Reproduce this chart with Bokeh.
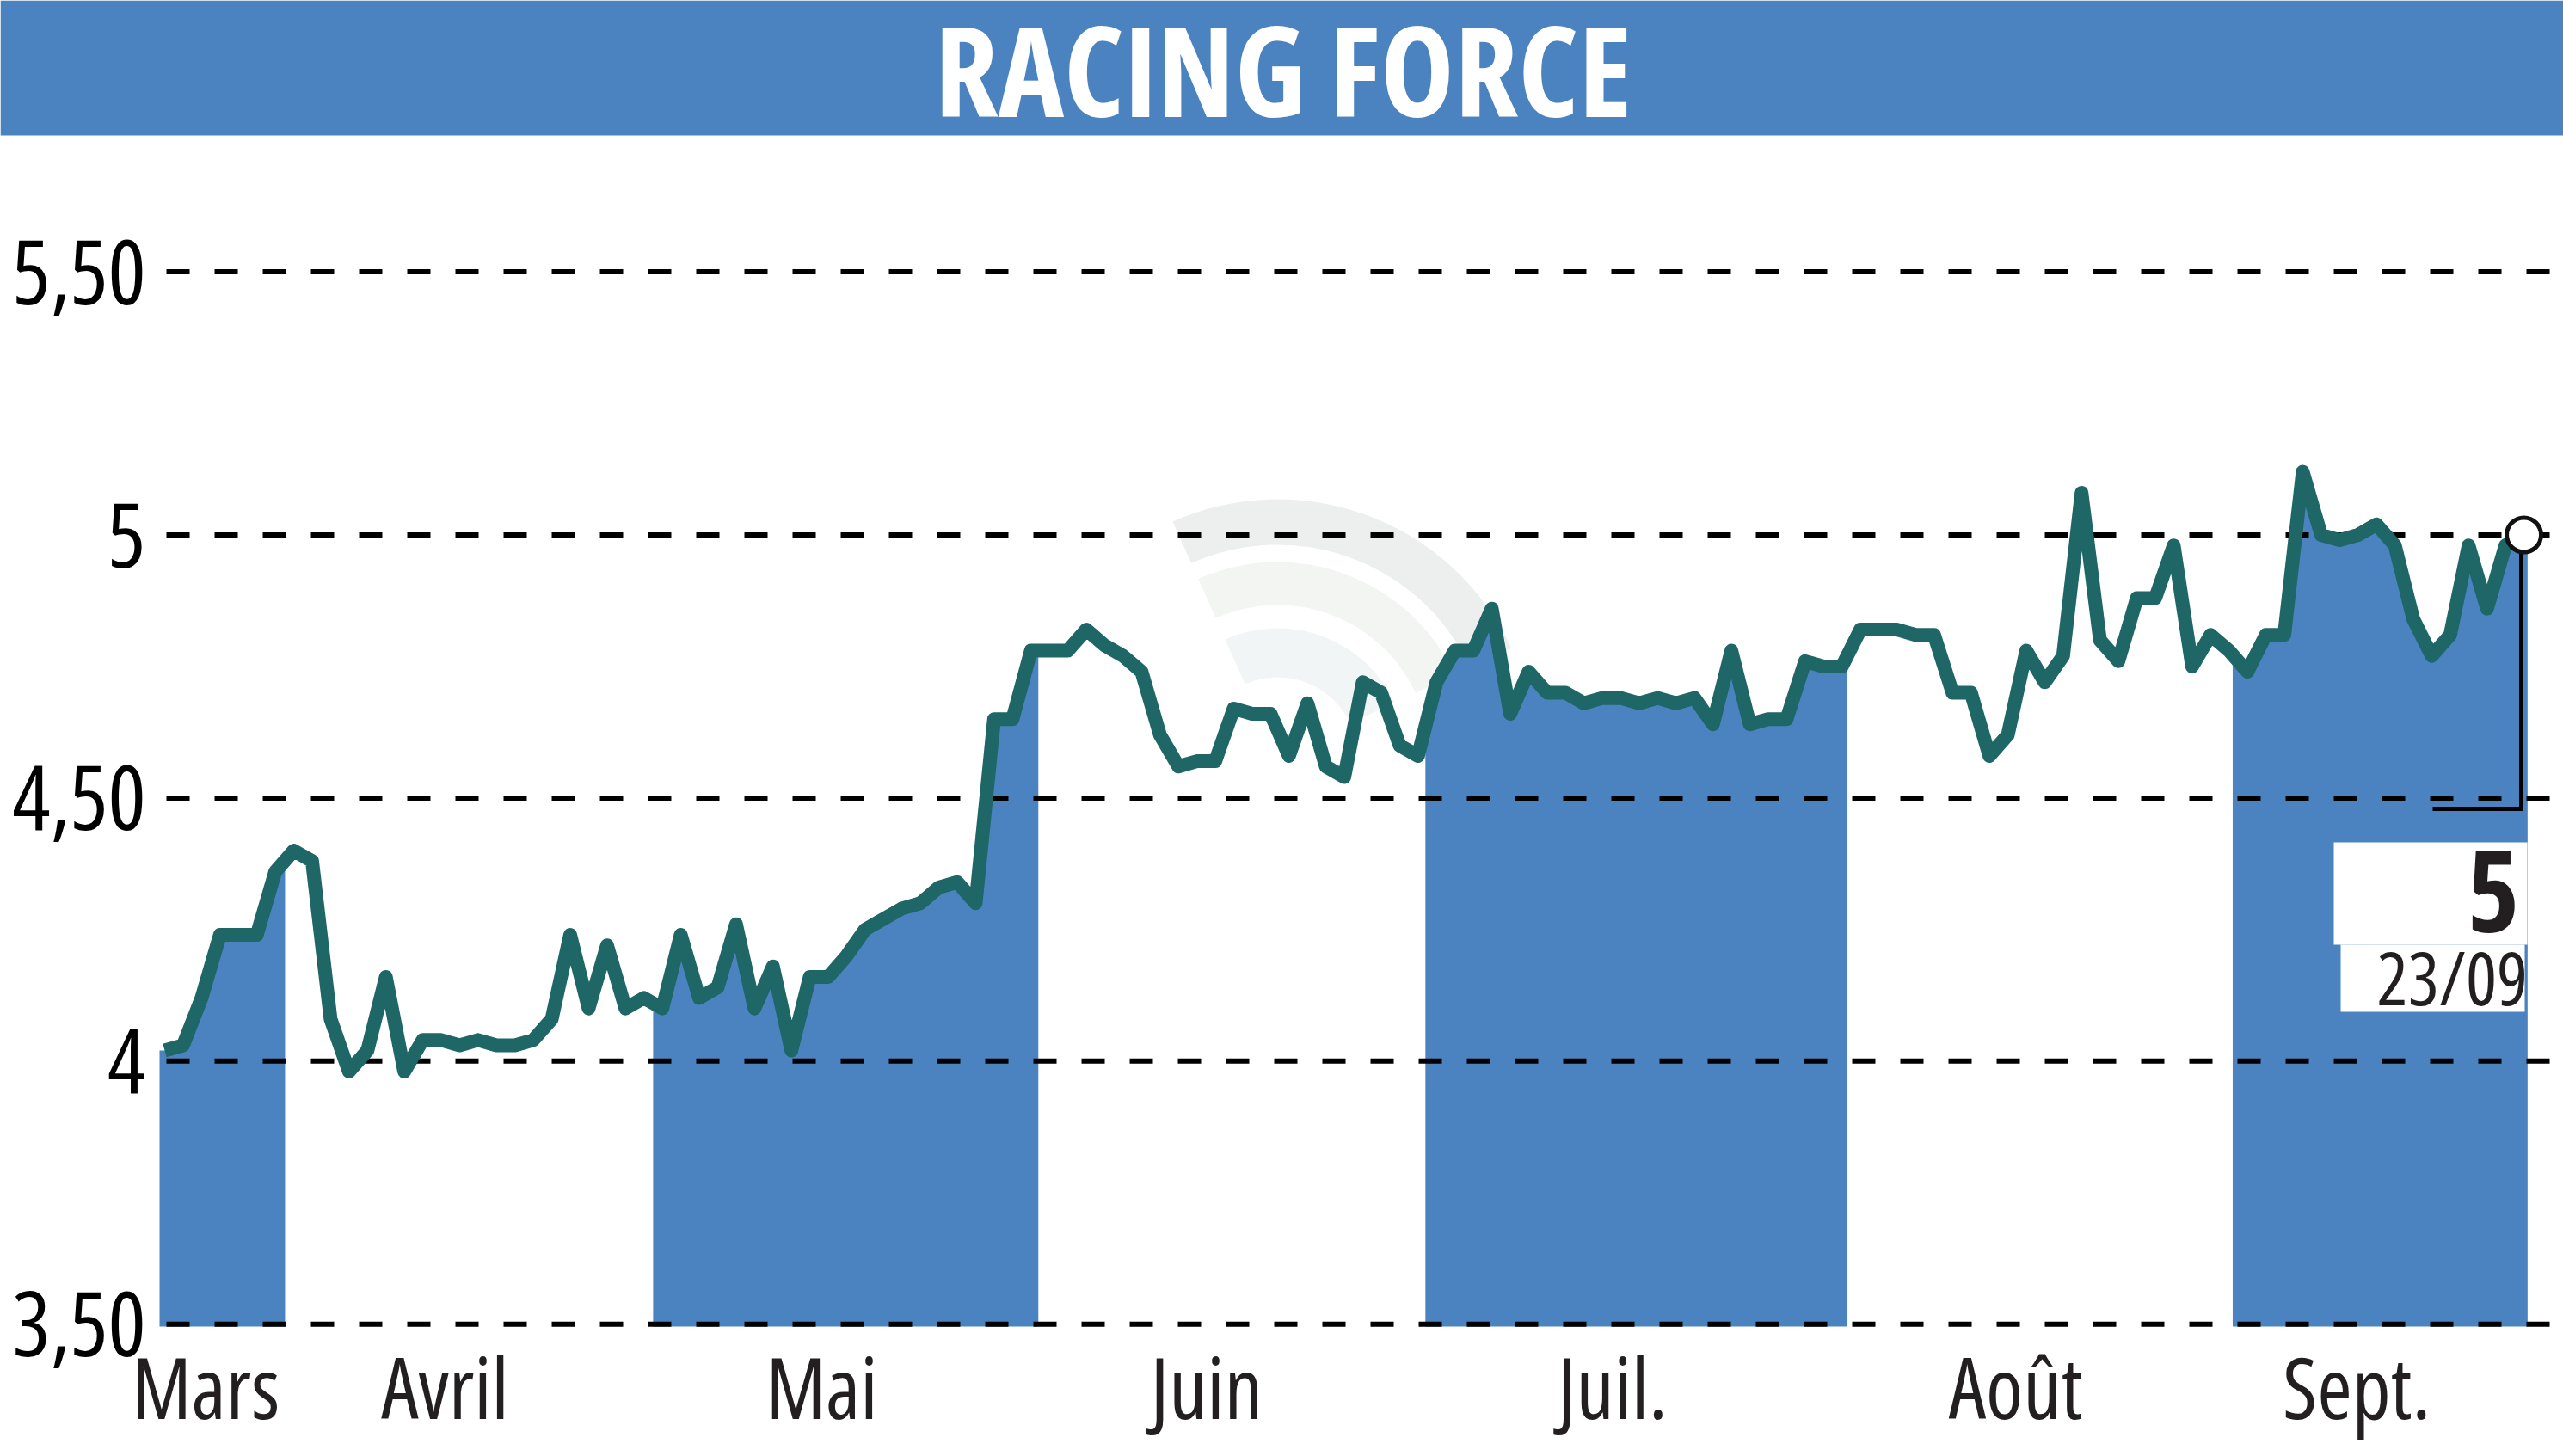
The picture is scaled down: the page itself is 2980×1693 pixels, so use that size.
from bokeh.plotting import figure
from bokeh.models import FixedTicker, Label, BoxAnnotation, LinearAxis
from bokeh.embed import file_html
from bokeh.resources import INLINE
import numpy as np

TITLE = "RACING FORCE"
PRICES = [
    4.02, 4.03, 4.12, 4.24, 4.24, 4.24, 4.36, 4.40, 4.38, 4.08,
    3.98, 4.02, 4.16, 3.98, 4.04, 4.04, 4.03, 4.04, 4.03, 4.03,
    4.04, 4.08, 4.24, 4.10, 4.22, 4.10, 4.12, 4.10, 4.24, 4.12,
    4.14, 4.26, 4.10, 4.18, 4.02, 4.16, 4.16, 4.20, 4.25, 4.27,
    4.29, 4.30, 4.33, 4.34, 4.30, 4.65, 4.65, 4.78, 4.78, 4.78,
    4.82, 4.79, 4.77, 4.74, 4.62, 4.56, 4.57, 4.57, 4.67, 4.66,
    4.66, 4.58, 4.68, 4.56, 4.54, 4.72, 4.70, 4.60, 4.58, 4.72,
    4.78, 4.78, 4.86, 4.66, 4.74, 4.70, 4.70, 4.68, 4.69, 4.69,
    4.68, 4.69, 4.68, 4.69, 4.64, 4.78, 4.64, 4.65, 4.65, 4.76,
    4.75, 4.75, 4.82, 4.82, 4.82, 4.81, 4.81, 4.70, 4.70, 4.58,
    4.62, 4.78, 4.72, 4.77, 5.08, 4.80, 4.76, 4.88, 4.88, 4.98,
    4.75, 4.81, 4.78, 4.74, 4.81, 4.81, 5.12, 5.00, 4.99, 5.00,
    5.02, 4.98, 4.84, 4.77, 4.81, 4.98, 4.86, 4.98, 5.00,
]
MONTHS = ["Mars", "Avril", "Mai", "Juin", "Juil.", "Août", "Sept."]
MONTH_POS = [3.55, 16.42, 36.52, 57.48, 79.34, 101.83, 120.26]
Y_TICKS = [3.5, 4.0, 4.5, 5.0, 5.5]
Y_LABELS = ["3,50", "4", "4,50", "5", "5,50"]
# shaded months, in trading-day index units
BANDS = [(-0.28, 6.53), (26.5, 47.4), (68.4, 91.3), (112.2, 128.2)]
LAST_VALUE = "5"
LAST_DATE = "23/09"

BLUE = "#4a83c0"
TEAL = "#1f6666"
INK = "#231f20"
FONT = "Open Sans"
STRETCH = {"font-stretch": "75%"}

W, H = 2980, 1693
HEAD = 157
FILL_BOTTOM = 1542
def X(px):
    return (px - 191) / 21.43
def Y(py):
    return 3.5 + (1539.2 - py) / 611.8

p = figure(width=W, height=H, output_backend="svg", toolbar_location=None,
           x_range=(X(0), X(W)), y_range=(Y(H), Y(0)),
           min_border=0, outline_line_color=None,
           background_fill_color="white", border_fill_color="white", styles=STRETCH)

# axes
x_axis = p.xaxis[0]
x_axis.fixed_location = Y(1534)
x_axis.ticker = FixedTicker(ticks=MONTH_POS)
x_axis.major_label_overrides = dict(zip(MONTH_POS, MONTHS))
x_axis.major_label_text_font_size = "98px"
x_axis.major_label_text_color = INK
x_axis.major_label_standoff = 4

two = [(t, l) for t, l in zip(Y_TICKS, Y_LABELS) if len(l) > 1]
one = [(t, l) for t, l in zip(Y_TICKS, Y_LABELS) if len(l) == 1]
y_wide = p.yaxis[0]
y_wide.fixed_location = X(247)
y_wide.ticker = FixedTicker(ticks=[t for t, _ in two])
y_wide.major_label_overrides = dict(two)
y_narrow = LinearAxis(fixed_location=X(212), ticker=FixedTicker(ticks=[t for t, _ in one]),
                      major_label_overrides=dict(one))
p.add_layout(y_narrow, "left")
for ax in (x_axis, y_wide, y_narrow):
    ax.axis_line_color = None
    ax.major_tick_line_color = None
    ax.minor_tick_line_color = None
    ax.major_label_text_font = FONT
for ax in (y_wide, y_narrow):
    ax.major_label_text_font_size = "104px"
    ax.major_label_text_color = "#000000"
    ax.major_label_standoff = 22

p.grid.visible = False
p.segment(x0=X(193), x1=X(W), y0=Y_TICKS, y1=Y_TICKS, line_color="#000000", line_width=6,
          line_dash="27 29", level="underlay")

# faint watermark
for r0, r1, col in [(247, 300, "#ecefed"), (177, 227, "#f3f5f3"), (93, 150, "#f2f5f5")]:
    p.annular_wedge(x=[X(1485)], y=[Y(880)], inner_radius=r0, outer_radius=r1,
                    inner_radius_units="screen", outer_radius_units="screen",
                    start_angle=25, end_angle=114, start_angle_units="deg", end_angle_units="deg",
                    fill_color=col, line_color=None, level="image")

# shaded months
idx = np.arange(len(PRICES), dtype=float)
vals = np.array(PRICES)
for a, b in BANDS:
    inner = idx[(idx > a) & (idx < b)]
    xs = np.concatenate(([a], inner, [b]))
    p.varea(x=xs, y1=np.full(xs.shape, Y(FILL_BOTTOM)), y2=np.interp(xs, idx, vals),
            fill_color=BLUE, level="image")

# price line
p.line(idx, vals, line_color=TEAL, line_width=16, line_join="round")

# callout
cx = X(2931)
p.line([cx, cx, X(2828)], [PRICES[-1], Y(940), Y(940)], line_color="#000000", line_width=5,
       line_join="miter")
p.scatter([idx[-1]], [PRICES[-1]], size=40, marker="circle", fill_color="white",
          line_color="#111111", line_width=5)

# label boxes
p.add_layout(BoxAnnotation(left=X(2713), right=X(2938), top=Y(979), bottom=Y(1098),
                           fill_color="white", fill_alpha=1, line_color=None, level="annotation"))
p.add_layout(BoxAnnotation(left=X(2721), right=X(2935), top=Y(1098), bottom=Y(1176),
                           fill_color="white", fill_alpha=1, line_color=None, level="annotation"))
p.add_layout(Label(x=X(2868), y=Y(1037), text=LAST_VALUE, text_font=FONT, text_font_style="bold",
                   text_font_size="130px", text_color=INK, text_align="left",
                   text_baseline="middle"))
p.add_layout(Label(x=X(2763), y=Y(1135), text=LAST_DATE, text_font=FONT,
                   text_font_size="85px", text_color=INK, text_align="left",
                   text_baseline="middle"))

# header band and title
p.add_layout(BoxAnnotation(top=Y(0), bottom=Y(HEAD), fill_color=BLUE, fill_alpha=1,
                           line_color=None, level="annotation"))
p.add_layout(Label(x=X(1086), y=Y(79), text=TITLE, text_font=FONT, text_font_style="bold",
                   text_font_size="145px", text_color="white", text_align="left",
                   text_baseline="middle"))

open("out.html", "w").write(file_html(p, INLINE))
